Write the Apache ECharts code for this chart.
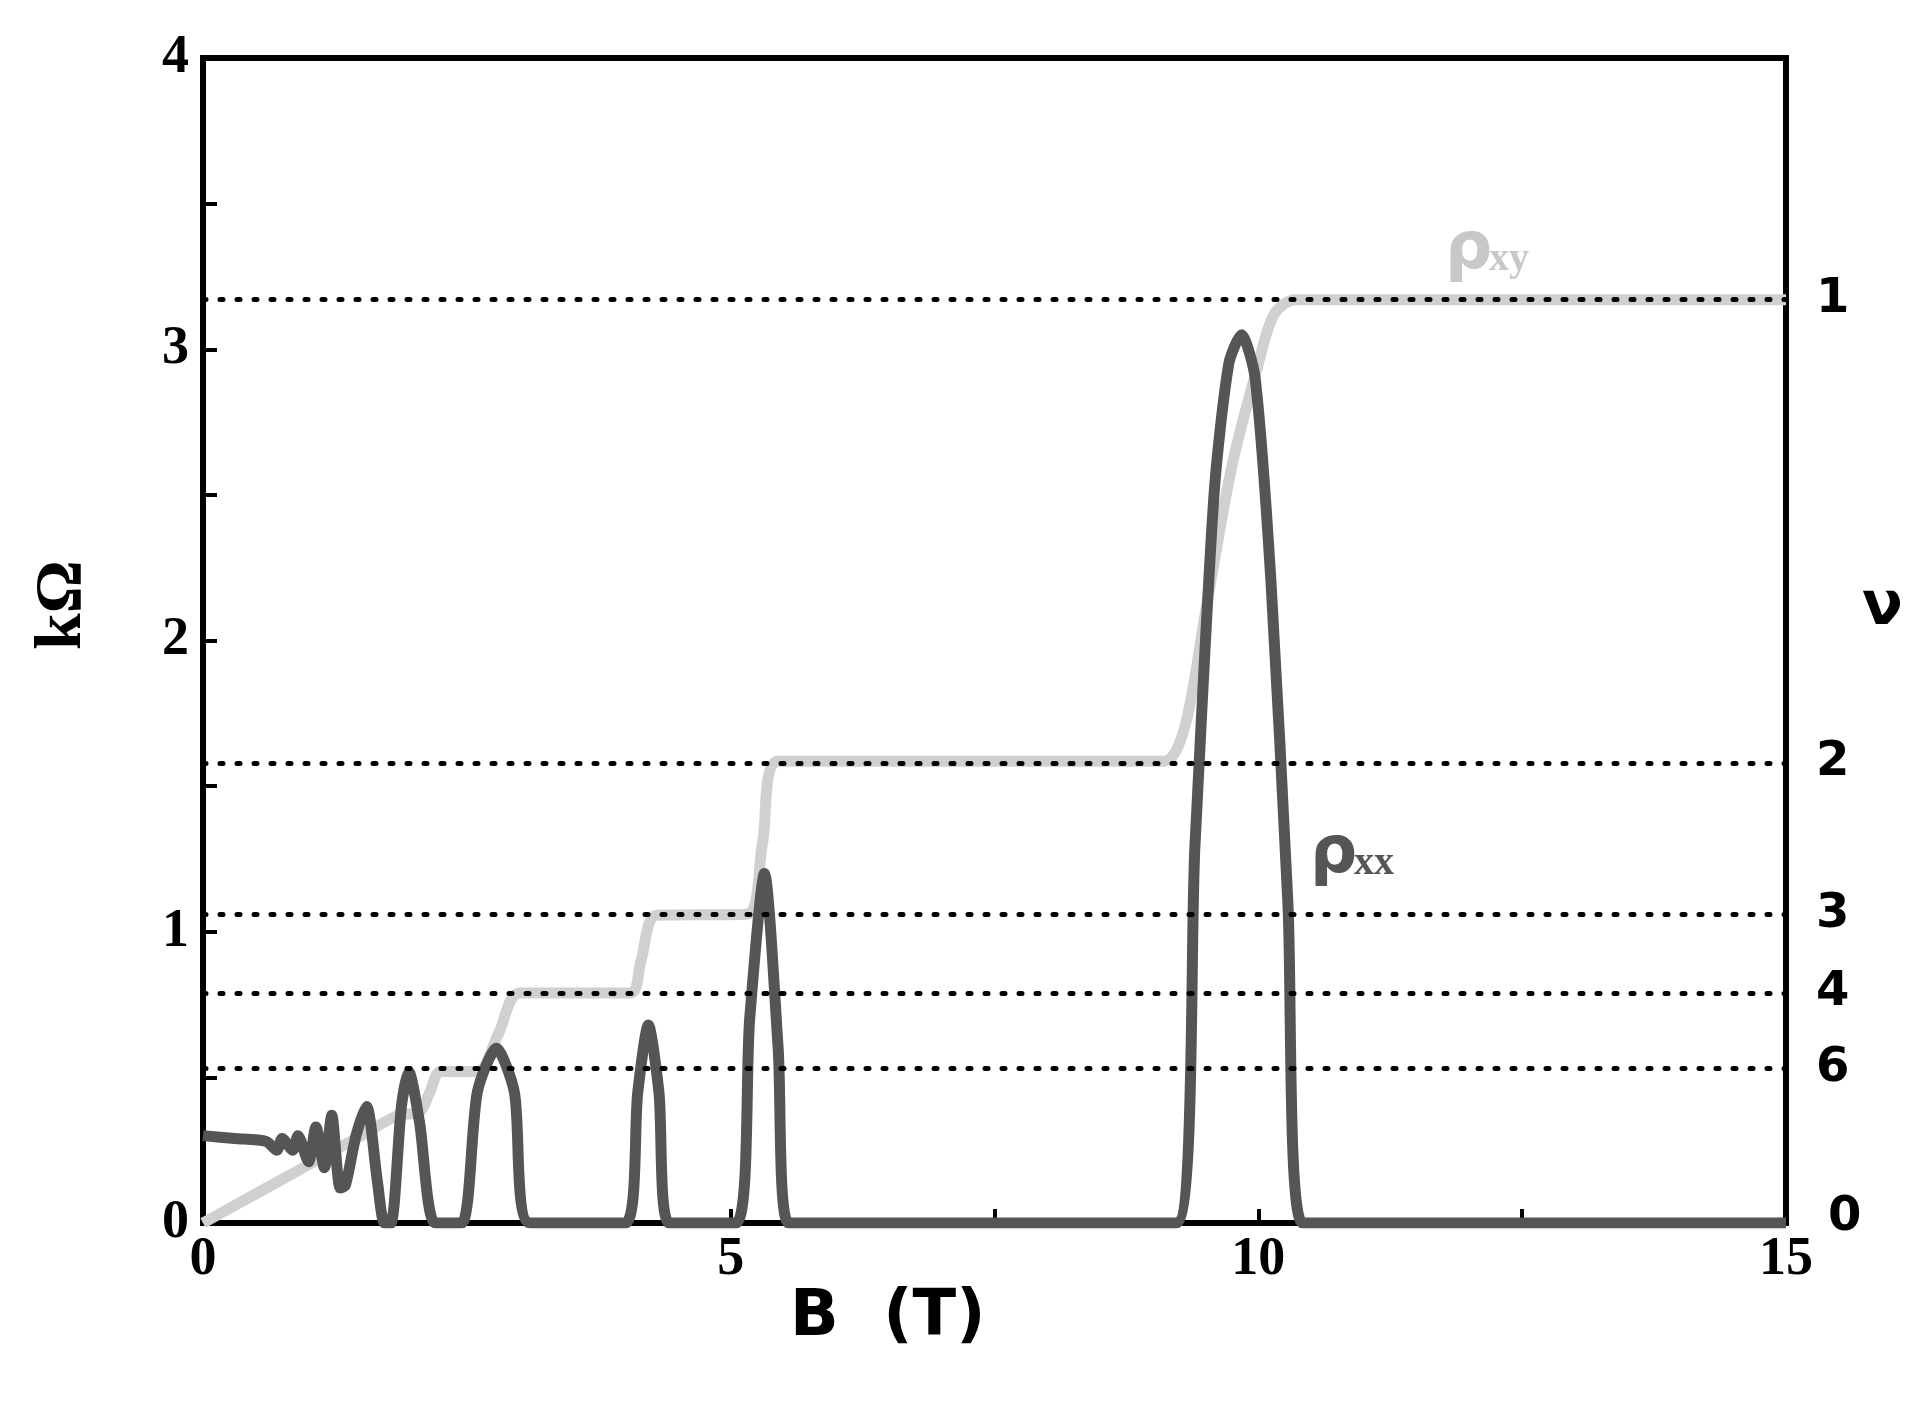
<!DOCTYPE html>
<html>
<head>
<meta charset="utf-8">
<script src="https://cdn.jsdelivr.net/npm/echarts@6/dist/echarts.min.js"></script>
<style>html,body{margin:0;background:#fff}#c{width:1931px;height:1404px}</style>
</head>
<body>
<div id="c"></div>
<script>
// rho_xy (kOhm) vs B (T)
var rhoXY = [
  [0, 0], [0.5, 0.1], [1.0, 0.2], [1.5, 0.3], [1.85, 0.37], [2.05, 0.38], [2.15, 0.45],
  [2.25, 0.52], [2.6, 0.52], [2.8, 0.65], [3.0, 0.79], [4.05, 0.79], [4.15, 0.9],
  [4.3, 1.057], [5.15, 1.06], [5.3, 1.3], [5.45, 1.585], [9.1, 1.585], [9.3, 1.7],
  [9.5, 2.1], [9.75, 2.6], [10.0, 2.95], [10.15, 3.12], [10.35, 3.17], [15, 3.17]
];
// rho_xx (kOhm) vs B (T)
var rhoXX = [
  [0, 0.30], [0.3, 0.29], [0.6, 0.28], [0.7, 0.25], [0.75, 0.29], [0.85, 0.25], [0.9, 0.3],
  [1.0, 0.21], [1.07, 0.33], [1.15, 0.19], [1.22, 0.37], [1.3, 0.12], [1.35, 0.13],
  [1.45, 0.3], [1.55, 0.4], [1.65, 0.15], [1.72, 0], [1.78, 0], [1.88, 0.4], [1.95, 0.52],
  [2.05, 0.35], [2.2, 0], [2.45, 0], [2.6, 0.45], [2.78, 0.6], [2.95, 0.45], [3.1, 0],
  [4.0, 0], [4.12, 0.45], [4.22, 0.68], [4.32, 0.45], [4.42, 0], [5.05, 0], [5.18, 0.7],
  [5.32, 1.2], [5.45, 0.6], [5.55, 0], [9.22, 0], [9.4, 1.3], [9.58, 2.5], [9.72, 2.95],
  [9.84, 3.05], [9.97, 2.9], [10.12, 2.2], [10.28, 1.1], [10.42, 0], [15, 0]
];
// quantum Hall plateaus
var nuLabels = ['1', '2', '3', '4', '6'];
var nuValues = [3.17, 1.585, 1.057, 0.793, 0.528];

var serif = 'Liberation Serif';
var chart = echarts.init(document.getElementById('c'));
chart.setOption({
  animation: false,
  grid: {left: 203, right: 145, top: 58, bottom: 181, show: true, borderColor: '#000', borderWidth: 6},
  xAxis: {
    type: 'value', min: 0, max: 15, interval: 2.5,
    axisLine: {lineStyle: {color: '#000', width: 6}},
    axisTick: {inside: true, length: 14, lineStyle: {color: '#000', width: 4}},
    axisLabel: {
      fontFamily: serif, fontSize: 54, fontWeight: 'bold', color: '#000', margin: 10,
      formatter: function (v) { return v % 5 === 0 ? v : ''; }
    },
    splitLine: {show: false}
  },
  yAxis: {
    type: 'value', min: 0, max: 4, interval: 0.5,
    axisLine: {lineStyle: {color: '#000', width: 6}},
    axisTick: {inside: true, length: 14, lineStyle: {color: '#000', width: 4}},
    axisLabel: {
      fontFamily: serif, fontSize: 54, fontWeight: 'bold', color: '#000', margin: 14,
      formatter: function (v) { return v % 1 === 0 ? v : ''; }
    },
    splitLine: {show: false}
  },
  series: [{
    type: 'line', data: rhoXY, smooth: 0.3, symbol: 'none', z: 2,
    lineStyle: {color: '#d0d0d0', width: 11},
    markLine: {
      silent: true, symbol: 'none',
      lineStyle: {color: '#000', type: [3, 14], width: 5, cap: 'round'},
      label: {
        position: 'end', distance: 30, fontSize: 48, fontWeight: 'bold', color: '#000',
        fontFamily: 'DejaVu Sans',
        formatter: function (p) { return p.name; }
      },
      data: nuValues.map(function (v, i) { return {name: nuLabels[i], yAxis: v}; })
    }
  }, {
    type: 'line', data: rhoXX, smooth: 0.25, symbol: 'none', z: 3,
    lineStyle: {color: '#555', width: 11}
  }],
  graphic: [
    {type: 'text', left: 1445, top: 218, style: {text: 'ρ', font: 'bold 66px DejaVu Sans', fill: '#c8c8c8'}},
    {type: 'text', left: 1489, top: 240, style: {text: 'xy', font: 'bold 40px Liberation Serif', fill: '#c8c8c8'}},
    {type: 'text', left: 1310, top: 822, style: {text: 'ρ', font: 'bold 66px DejaVu Sans', fill: '#555'}},
    {type: 'text', left: 1354, top: 844, style: {text: 'xx', font: 'bold 40px Liberation Serif', fill: '#555'}},
    {type: 'text', left: 1862, top: 578, style: {text: 'ν', font: 'bold 60px DejaVu Sans', fill: '#000'}},
    {type: 'text', left: 1828, top: 1194, style: {text: '0', font: 'bold 48px DejaVu Sans', fill: '#000'}},
    {type: 'text', x: 30, y: 650, rotation: Math.PI / 2, style: {text: 'kΩ', font: 'bold 66px Liberation Serif', fill: '#000'}},
    {type: 'text', left: 790, top: 1286, style: {text: 'B  (T)', font: 'bold 64px DejaVu Sans', fill: '#000'}}
  ]
});
</script>
</body>
</html>
